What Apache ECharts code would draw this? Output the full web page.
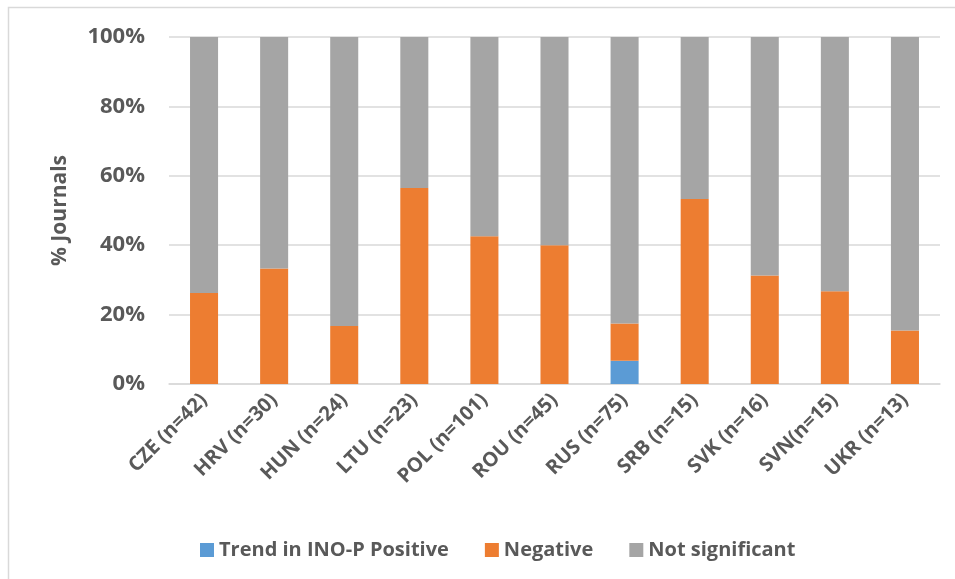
<!DOCTYPE html>
<html><head><meta charset="utf-8">
<script src="https://cdn.jsdelivr.net/npm/echarts@6/dist/echarts.min.js"></script>
<style>html,body{margin:0;padding:0;background:#fff}#c{width:955px;height:579px}</style>
</head><body><div id="c"></div>
<script>
const categories = ["CZE (n=42)","HRV (n=30)","HUN (n=24)","LTU (n=23)","POL (n=101)","ROU (n=45)","RUS (n=75)","SRB (n=15)","SVK (n=16)","SVN(n=15)","UKR (n=13)"];
const positive = [0,0,0,0,0,0,6.7,0,0,0,0];
const negative = [26.2,33.3,16.7,56.5,42.6,40.0,10.7,53.3,31.3,26.7,15.4];
const notSignificant = [73.8,66.7,83.3,43.5,57.4,60.0,82.6,46.7,68.7,73.3,84.6];
const yTicks = [0,20,40,60,80,100];

const font = "'Open Sans', 'Liberation Sans', sans-serif";
const chart = echarts.init(document.getElementById('c'), null, {renderer:'canvas'});
const mk = (name, data, color) => ({name, type:'bar', stack:'s', data, barWidth:'40%', itemStyle:{color}, emphasis:{disabled:true}});
chart.setOption({
  animation:false,
  graphic:[{type:'rect', shape:{x:8.5,y:7.5,width:960,height:600}, style:{fill:'none', stroke:'#D9D9D9', lineWidth:1.5}, silent:true}],
  grid:{left:169, right:15, top:37, bottom:195},
  legend:{
    top:535, left:195,
    itemWidth:14, itemHeight:14, itemGap:36,
    icon:'rect',
    textStyle:{fontFamily:font, fontWeight:'bold', fontSize:20, color:'#595959'},
    data:[{name:'Trend in INO-P Positive'},{name:'Negative'},{name:'Not significant'}]
  },
  xAxis:{type:'category', data:categories,
    axisLine:{lineStyle:{color:'#D9D9D9', width:1.5}},
    axisTick:{show:false},
    axisLabel:{rotate:45, interval:0, margin:13, fontFamily:font, fontWeight:'bold', fontSize:20, color:'#595959'}
  },
  yAxis:{type:'value', min:yTicks[0], max:yTicks[yTicks.length-1], interval:20,
    name:'% Journals', nameLocation:'middle', nameGap:98,
    nameTextStyle:{fontFamily:font, fontWeight:'bold', fontSize:21, color:'#595959'},
    axisLine:{show:false}, axisTick:{show:false},
    splitLine:{lineStyle:{color:'#D9D9D9', width:1.5}},
    axisLabel:{formatter:v=>v+'%', margin:24, fontFamily:font, fontWeight:'bold', fontSize:22, color:'#595959'}
  },
  series:[
    mk('Trend in INO-P Positive', positive, '#5B9BD5'),
    mk('Negative', negative, '#ED7D31'),
    mk('Not significant', notSignificant, '#A5A5A5')
  ]
});
</script></body></html>
